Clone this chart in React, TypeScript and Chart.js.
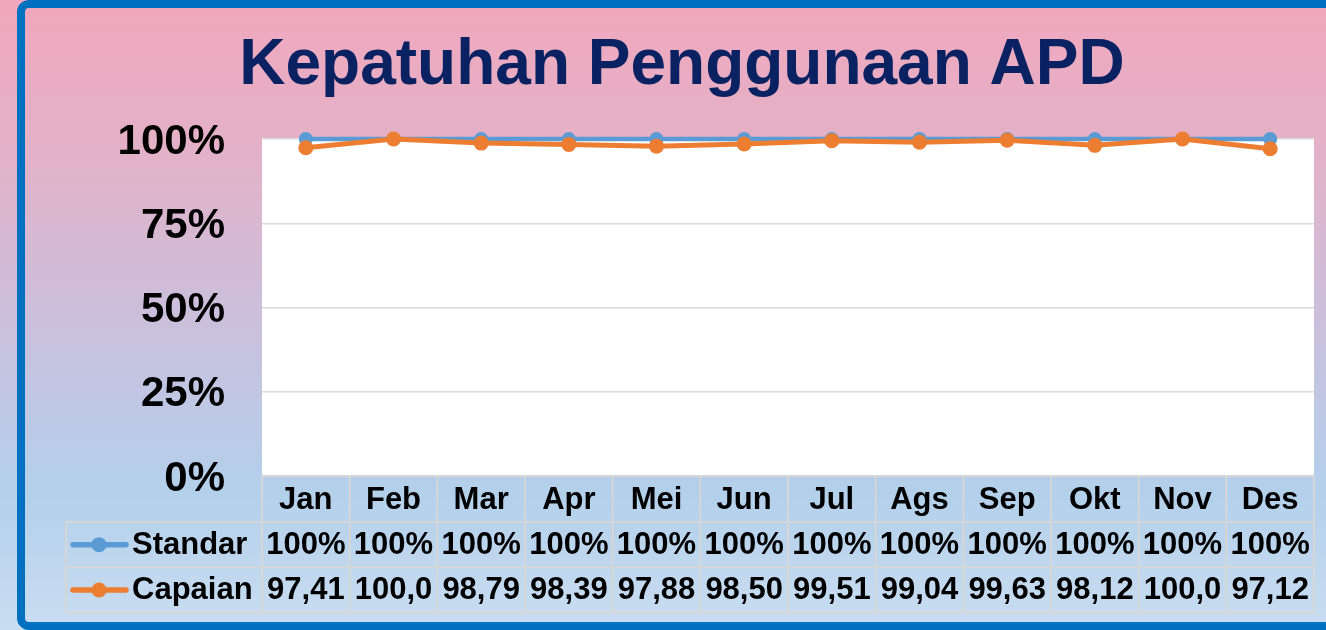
import React, { useEffect, useRef } from 'react';
import { Chart, registerables } from 'chart.js';

Chart.register(...registerables);

const titleText = 'Kepatuhan Penggunaan APD';
const categories = ['Jan', 'Feb', 'Mar', 'Apr', 'Mei', 'Jun', 'Jul', 'Ags', 'Sep', 'Okt', 'Nov', 'Des'];
const standarValues = [100, 100, 100, 100, 100, 100, 100, 100, 100, 100, 100, 100];
const capaianValues = [97.41, 100.0, 98.79, 98.39, 97.88, 98.5, 99.51, 99.04, 99.63, 98.12, 100.0, 97.12];
const seriesNames = ['Standar', 'Capaian'];
const seriesColors = ['#5B9BD5', '#ED7D31'];
const yTickStep = 25;

const FONT = 'Arial, "Liberation Sans", sans-serif';

const fmtStandar = (v: number) => `${v}%`;
const fmtCapaian = (v: number) => v.toFixed(2).replace('.', ',').slice(0, 5);

const decorPlugin = {
  id: 'decor',
  beforeDraw(chart: any) {
    const { ctx, width, height, chartArea } = chart;
    ctx.save();
    const g = ctx.createLinearGradient(0, 0, 0, height);
    g.addColorStop(0, '#F1A7BD');
    g.addColorStop(0.25, '#E2B2C8');
    g.addColorStop(0.5, '#CBBFDC');
    g.addColorStop(0.78, '#B3D0EB');
    g.addColorStop(1, '#C9DDF1');
    ctx.fillStyle = g;
    ctx.fillRect(0, 0, width, height);
    ctx.fillStyle = '#FFFFFF';
    ctx.fillRect(chartArea.left, chartArea.top, chartArea.right - chartArea.left, chartArea.bottom - chartArea.top);
    // title
    ctx.fillStyle = '#0B2262';
    ctx.font = `bold 64px ${FONT}`;
    ctx.textAlign = 'center';
    ctx.textBaseline = 'alphabetic';
    ctx.fillText(titleText, 682, 84);
    ctx.restore();
  },
  afterDraw(chart: any) {
    const { ctx, chartArea } = chart;
    const xs = chart.scales.x;
    const left = chartArea.left;
    const right = chartArea.right;
    const colW = (right - left) / categories.length;
    const rowH = 45.3;
    const top = chartArea.bottom;
    const r1 = top + rowH + 0.7;
    const r2 = r1 + rowH;
    const r3 = r2 + rowH;
    const legendLeft = 66;
    ctx.save();
    ctx.strokeStyle = '#D6D6D6';
    ctx.lineWidth = 2;
    ctx.beginPath();
    ctx.moveTo(left, top);
    ctx.lineTo(right, top);
    [r1, r2, r3].forEach((y) => {
      ctx.moveTo(legendLeft, y);
      ctx.lineTo(right, y);
    });
    for (let i = 0; i <= categories.length; i++) {
      const x = left + i * colW;
      ctx.moveTo(x, top);
      ctx.lineTo(x, r3);
    }
    ctx.moveTo(legendLeft, r1);
    ctx.lineTo(legendLeft, r3);
    ctx.stroke();

    ctx.fillStyle = '#000000';
    ctx.font = `bold 31px ${FONT}`;
    ctx.textAlign = 'center';
    ctx.textBaseline = 'middle';
    const rows = [
      categories,
      standarValues.map(fmtStandar),
      capaianValues.map(fmtCapaian),
    ];
    const centers = [(top + r1) / 2 + 1.5, (r1 + r2) / 2 + 1, (r2 + r3) / 2 + 1];
    rows.forEach((row, ri) => {
      row.forEach((txt, i) => {
        const cx = xs.getPixelForValue(i);
        ctx.fillText(txt, cx, centers[ri]);
      });
    });
    // legend keys
    seriesNames.forEach((name, si) => {
      const cy = centers[si + 1];
      ctx.strokeStyle = seriesColors[si];
      ctx.lineWidth = 5.5;
      ctx.lineCap = 'round';
      ctx.beginPath();
      ctx.moveTo(73, cy - 1);
      ctx.lineTo(126, cy - 1);
      ctx.stroke();
      ctx.fillStyle = seriesColors[si];
      ctx.beginPath();
      ctx.arc(99, cy - 1, 7.5, 0, Math.PI * 2);
      ctx.fill();
      ctx.fillStyle = '#000000';
      ctx.textAlign = 'left';
      ctx.fillText(name, 132, cy);
    });
    // outer border
    ctx.strokeStyle = '#0070C0';
    ctx.lineWidth = 8;
    ctx.beginPath();
    (ctx as any).roundRect(21, 4, 1400, 622, 8);
    ctx.stroke();
    ctx.restore();
  },
};

export default function App() {
  const ref = useRef<HTMLCanvasElement | null>(null);
  useEffect(() => {
    if (!ref.current) return;
    const chart = new Chart(ref.current, {
      type: 'line',
      data: {
        labels: categories,
        datasets: [
          {
            label: seriesNames[0],
            data: standarValues,
            borderColor: seriesColors[0],
            backgroundColor: seriesColors[0],
            pointBackgroundColor: seriesColors[0],
            borderWidth: 4.5,
            pointRadius: 7,
            pointHoverRadius: 7,
            pointBorderWidth: 0,
            clip: false,
            order: 1,
          },
          {
            label: seriesNames[1],
            data: capaianValues,
            borderColor: seriesColors[1],
            backgroundColor: seriesColors[1],
            pointBackgroundColor: seriesColors[1],
            borderWidth: 5,
            pointRadius: 7.5,
            pointHoverRadius: 7.5,
            pointBorderWidth: 0,
            clip: false,
            order: 0,
          },
        ],
      },
      options: {
        responsive: false,
        animation: false,
        devicePixelRatio: 1,
        events: [],
        layout: { padding: { left: 0, right: 12, top: 139, bottom: 154 } },
        plugins: { legend: { display: false }, tooltip: { enabled: false }, title: { display: false } },
        scales: {
          x: { type: 'category', display: false, offset: true },
          y: {
            min: 0,
            max: 100,
            border: { display: false },
            grid: { color: '#D9D9D9', lineWidth: 1.5, drawTicks: false },
            ticks: {
              stepSize: yTickStep,
              padding: 37,
              labelOffset: 3,
              color: '#000000',
              font: { family: FONT, size: 42, weight: 'bold' },
              callback: (v: any) => `${v}%`,
            },
            afterFit: (scale: any) => {
              scale.width = 262;
            },
          },
        },
      },
      plugins: [decorPlugin],
    });
    return () => chart.destroy();
  }, []);
  return (
    <div style={{ position: 'absolute', left: 0, top: 0, width: 1326, height: 630 }}>
      <canvas ref={ref} width={1326} height={630} style={{ display: 'block', width: 1326, height: 630 }} />
    </div>
  );
}
